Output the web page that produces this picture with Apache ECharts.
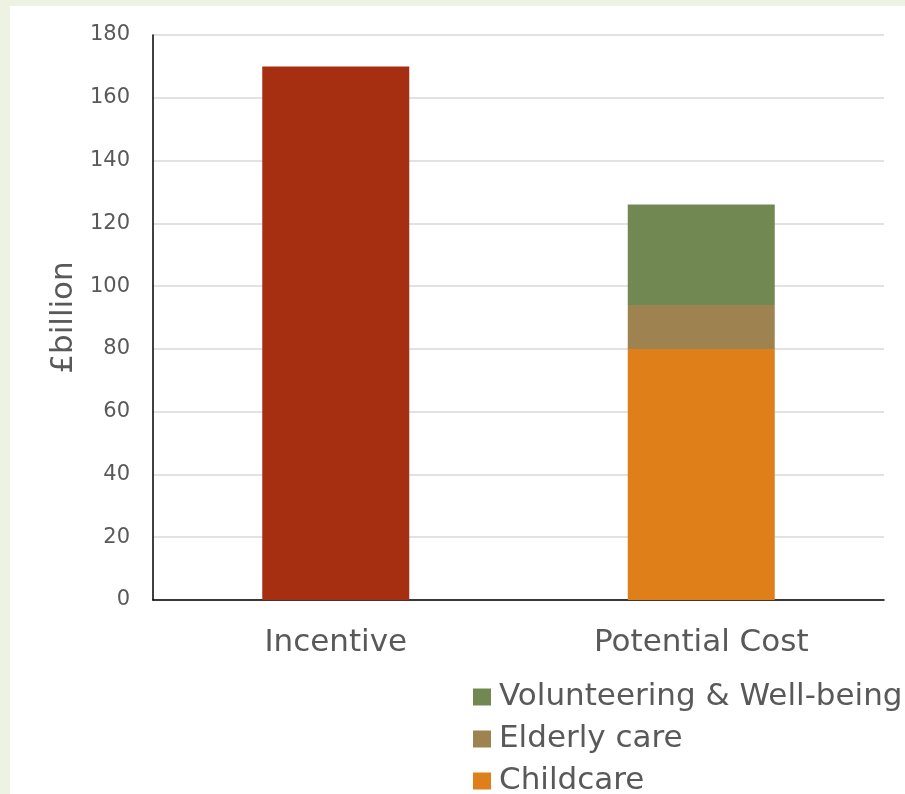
<!DOCTYPE html>
<html>
<head>
<meta charset="utf-8">
<script src="https://cdn.jsdelivr.net/npm/echarts@6/dist/echarts.min.js"></script>
<style>
  html, body { margin: 0; padding: 0; background: #eef2e2; width: 905px; height: 794px; overflow: hidden; }
  #chart { position: absolute; left: 10px; top: 6px; width: 895px; height: 788px; background: #ffffff; }
</style>
</head>
<body>
<div id="chart"></div>
<script>
// Categories and values (£ billion)
const categories = ['Incentive', 'Potential Cost'];
const incentive = [170, '-'];
const childcare = ['-', 80];
const elderlyCare = ['-', 14];
const volunteering = ['-', 32];
const yTicks = { min: 0, max: 180, interval: 20 };
const legendOrder = ['Volunteering & Well-being', 'Elderly care', 'Childcare'];

const FONT = 'DejaVu Sans';
const TEXT = '#595959';

// one legend row per cost component, stacked top to bottom
const legendRows = legendOrder.map((name, i) => ({
  orient: 'vertical',
  left: 463,
  top: 675 + i * 42,
  padding: 0,
  itemWidth: 18,
  itemHeight: 17,
  icon: 'rect',
  data: [name],
  textStyle: { color: TEXT, fontSize: 31, fontFamily: FONT, lineHeight: 32, padding: [0, 0, 0, 3] }
}));

const chart = echarts.init(document.getElementById('chart'));
chart.setOption({
  animation: false,
  textStyle: { fontFamily: FONT },
  grid: { left: 143, right: 21, top: 29, bottom: 194, containLabel: false },
  legend: legendRows,
  xAxis: {
    type: 'category',
    data: categories,
    axisLine: { lineStyle: { color: '#000000', width: 1.5 } },
    axisTick: { show: false },
    axisLabel: { color: TEXT, fontSize: 31, margin: 27, fontFamily: FONT }
  },
  yAxis: {
    type: 'value',
    min: yTicks.min,
    max: yTicks.max,
    interval: yTicks.interval,
    name: '£billion',
    nameLocation: 'middle',
    nameRotate: 90,
    nameGap: 74,
    nameTextStyle: { color: TEXT, fontSize: 31, fontFamily: FONT },
    axisLine: { show: true, lineStyle: { color: '#000000', width: 1.5 } },
    axisTick: { show: false },
    splitLine: { lineStyle: { color: '#d9d9d9', width: 1.5 } },
    axisLabel: { color: TEXT, fontSize: 21, margin: 23, fontFamily: FONT }
  },
  series: [
    { name: 'Incentive', type: 'bar', stack: 'total', barWidth: 147, data: incentive, itemStyle: { color: '#a62f12' } },
    { name: 'Childcare', type: 'bar', stack: 'total', barWidth: 147, data: childcare, itemStyle: { color: '#df7f1a' } },
    { name: 'Elderly care', type: 'bar', stack: 'total', barWidth: 147, data: elderlyCare, itemStyle: { color: '#9e8350' } },
    { name: 'Volunteering & Well-being', type: 'bar', stack: 'total', barWidth: 147, data: volunteering, itemStyle: { color: '#728853' } }
  ]
});
</script>
</body>
</html>
